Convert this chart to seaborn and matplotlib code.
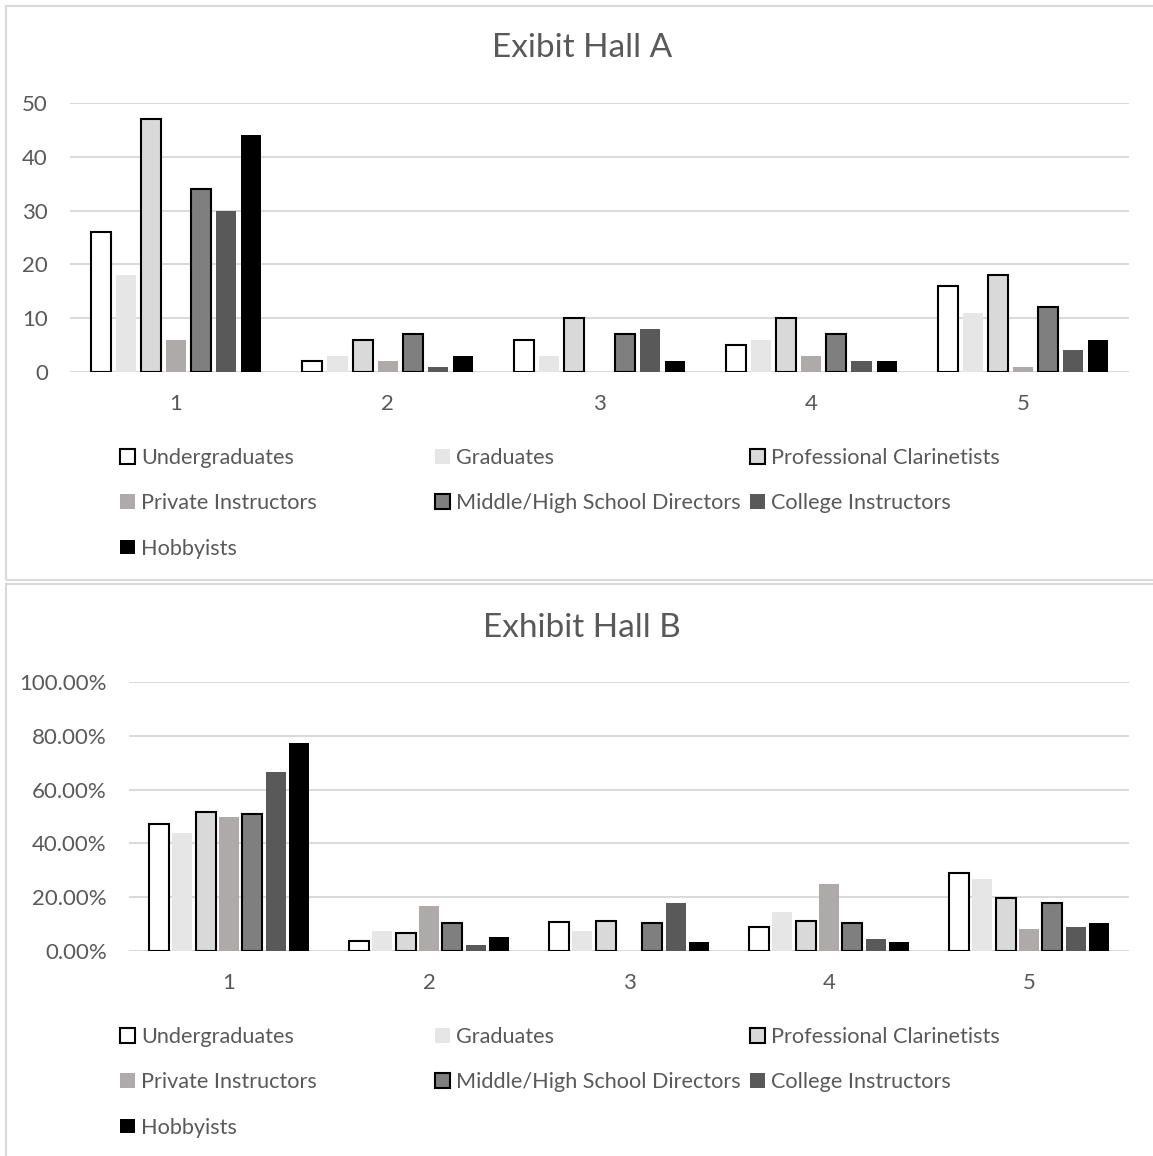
import matplotlib
matplotlib.use("Agg")
import matplotlib.pyplot as plt
from matplotlib.patches import Rectangle
from matplotlib.ticker import FuncFormatter, MultipleLocator
import pandas as pd
import seaborn as sns

# Survey answers 1-5 by respondent group
ratings = ["1", "2", "3", "4", "5"]
groups = ["Undergraduates", "Graduates", "Professional Clarinetists",
          "Private Instructors", "Middle/High School Directors",
          "College Instructors", "Hobbyists"]

# Exhibit Hall A: counts
hall_a_undergraduates = [26, 2, 6, 5, 16]
hall_a_graduates = [18, 3, 3, 6, 11]
hall_a_professionals = [47, 6, 10, 10, 18]
hall_a_private = [6, 2, 0, 3, 1]
hall_a_directors = [34, 7, 7, 7, 12]
hall_a_college = [30, 1, 8, 2, 4]
hall_a_hobbyists = [44, 3, 2, 2, 6]

# Exhibit Hall B: percentages
hall_b_undergraduates = [47.27, 3.64, 10.91, 9.09, 29.09]
hall_b_graduates = [43.90, 7.32, 7.32, 14.63, 26.83]
hall_b_professionals = [51.65, 6.59, 10.99, 10.99, 19.78]
hall_b_private = [50.00, 16.67, 0.00, 25.00, 8.33]
hall_b_directors = [50.75, 10.45, 10.45, 10.45, 17.91]
hall_b_college = [66.67, 2.22, 17.78, 4.44, 8.89]
hall_b_hobbyists = [77.19, 5.26, 3.51, 3.51, 10.53]

fills = ["#FFFFFF", "#E7E6E6", "#D9D9D9", "#AEAAAA", "#7F7F7F", "#595959", "#000000"]
outlined = [True, False, True, False, True, False, False]
TEXT = "#595959"
GRID = "#D9D9D9"


def long_frame(series):
    rows = []
    for g, vals in zip(groups, series):
        for r, v in zip(ratings, vals):
            rows.append({"rating": r, "group": g, "value": v})
    return pd.DataFrame(rows)


df_a = long_frame([hall_a_undergraduates, hall_a_graduates, hall_a_professionals,
                   hall_a_private, hall_a_directors, hall_a_college, hall_a_hobbyists])
df_b = long_frame([hall_b_undergraduates, hall_b_graduates, hall_b_professionals,
                   hall_b_private, hall_b_directors, hall_b_college, hall_b_hobbyists])

sns.set_theme(style="white")
plt.rcParams["font.family"] = ["Lato", "DejaVu Sans"]

W, H = 1153, 1156
fig = plt.figure(figsize=(W / 100, H / 100), dpi=100)


def fx(px):
    return px / W


def fy(py):
    return 1 - py / H


# panel frames
fig.patches.append(Rectangle((fx(5.5), fy(580)), fx(1200), fy(5.5) - fy(580),
                             transform=fig.transFigure, fill=False,
                             edgecolor=GRID, linewidth=1.5))
fig.patches.append(Rectangle((fx(5.5), fy(1200)), fx(1200), fy(584) - fy(1200),
                             transform=fig.transFigure, fill=False,
                             edgecolor=GRID, linewidth=1.5))

FS = 16
LEG_FS = 15.6


def draw_panel(df, box, ymax, step, fmt, title, title_y, width, gap, legend_top):
    left, top, right, bottom = box
    ax = fig.add_axes([fx(left), fy(bottom), fx(right) - fx(left), fy(top) - fy(bottom)])
    sns.barplot(data=df, x="rating", y="value", hue="group", order=ratings,
                hue_order=groups, palette=fills, width=width, gap=gap,
                legend=False, ax=ax, saturation=1)
    for cont, edge in zip(ax.containers, outlined):
        for p in cont.patches:
            if edge:
                p.set_edgecolor("black")
                p.set_linewidth(1.5)
            else:
                p.set_edgecolor("none")
                p.set_linewidth(0)
            p.set_zorder(3)
    ax.set_ylim(0, ymax)
    ax.yaxis.set_major_locator(MultipleLocator(step))
    ax.yaxis.set_major_formatter(FuncFormatter(fmt))
    ax.grid(axis="y", color=GRID, linewidth=1.4, zorder=0)
    ax.set_axisbelow(True)
    for s in ax.spines.values():
        s.set_visible(False)
    ax.set_xlabel("")
    ax.set_ylabel("")
    ax.tick_params(axis="both", length=0, labelsize=FS, colors=TEXT)
    ax.tick_params(axis="y", pad=16)
    ax.tick_params(axis="x", pad=16)
    fig.text(fx(582), fy(title_y), title, ha="center", va="center",
             fontsize=24, color=TEXT)

    # legend laid out row by row in three columns
    columns = [[0, 3, 6], [1, 4], [2, 5]]
    col_x = [120, 435, 750]
    for idx, cx in zip(columns, col_x):
        handles = [ax.containers[i].patches[0] for i in idx]
        labels = [groups[i] for i in idx]
        leg = fig.legend(handles, labels, loc="upper left",
                         bbox_to_anchor=(fx(cx), fy(legend_top)),
                         frameon=False, fontsize=LEG_FS, borderpad=0,
                         borderaxespad=0, handlelength=0.67, handleheight=0.67,
                         handletextpad=0.3, labelspacing=1.17)
        for t in leg.get_texts():
            t.set_color(TEXT)
    return ax


draw_panel(df_a, (70, 103, 1129, 372), 50, 10, lambda v, p: f"{v:.0f}",
           "Exibit Hall A", 48, 0.83, 0.2, 448)
draw_panel(df_b, (129, 682, 1129, 951), 100, 20, lambda v, p: f"{v:.2f}%",
           "Exhibit Hall B", 628, 0.82, 0.15, 1027)

fig.savefig("out.png", dpi=100, facecolor="white")
